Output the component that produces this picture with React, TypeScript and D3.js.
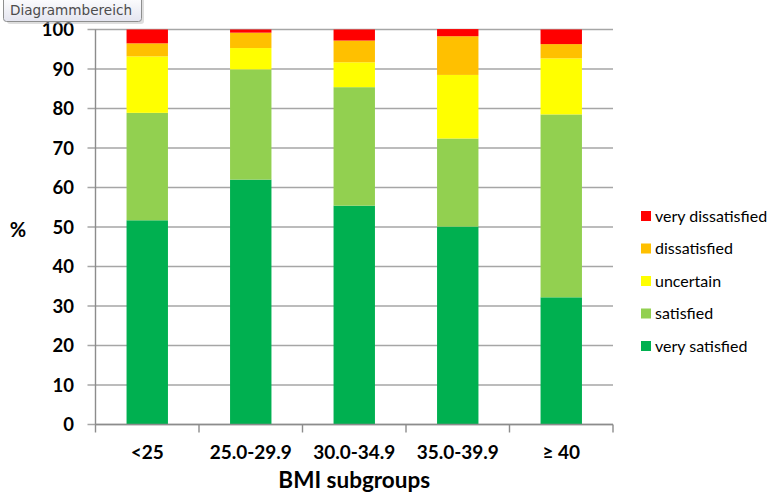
import React from "react";
import * as d3 from "d3";

const categories = ["<25", "25.0-29.9", "30.0-34.9", "35.0-39.9", "≥ 40"];
const seriesNames = ["very satisfied", "satisfied", "uncertain", "dissatisfied", "very dissatisfied"];
const verySatisfied = [51.7, 62.0, 55.4, 50.1, 32.2];
const satisfied = [27.2, 27.9, 30.0, 22.3, 46.3];
const uncertain = [14.3, 5.4, 6.3, 16.1, 14.2];
const dissatisfied = [3.3, 3.9, 5.5, 9.8, 3.6];
const veryDissatisfied = [3.5, 0.8, 2.8, 1.8, 3.7];
const seriesColors = ["#00B050", "#92D050", "#FFFF00", "#FFC000", "#FF0000"];
const yTicks = [0, 10, 20, 30, 40, 50, 60, 70, 80, 90, 100];

const W = 774;
const H = 499;
const FONT = "Lato, 'Open Sans', sans-serif";

export default function App() {
  const left = 95.5;
  const right = 613;
  const top = 29.5;
  const bottom = 424.5;

  const x = d3.scaleBand<string>().domain(categories).range([left, right]).paddingInner(0.6).paddingOuter(0.3);
  const xb = d3.scaleBand<string>().domain(categories).range([left, right]);
  const y = d3.scaleLinear().domain([0, 100]).range([bottom, top]);

  const rows = categories.map((c, i) => ({
    cat: c,
    "very satisfied": verySatisfied[i],
    satisfied: satisfied[i],
    uncertain: uncertain[i],
    dissatisfied: dissatisfied[i],
    "very dissatisfied": veryDissatisfied[i],
  }));
  const stack = d3.stack<any>().keys(seriesNames)(rows);

  const boundaries = categories.map((c) => xb(c) as number).concat([right]);
  const legendOrder = [...seriesNames].reverse();
  const legendY = d3.scalePoint<string>().domain(legendOrder).range([216, 346]);

  return (
    <svg width={W} height={H} style={{ position: "absolute", left: 0, top: 0, background: "#fff" }}>
      <defs>
        <linearGradient id="tipg" x1="0" y1="0" x2="0" y2="1">
          <stop offset="0" stopColor="#ffffff" />
          <stop offset="1" stopColor="#e4e5f0" />
        </linearGradient>
      </defs>
      {/* gridlines */}
      {yTicks.map((t) => (
        <line key={t} x1={left - 8} x2={right} y1={y(t)} y2={y(t)} stroke="#a6a6a6" strokeWidth={1.4} />
      ))}
      {/* bars */}
      {stack.map((s, si) =>
        s.map((d, i) => (
          <rect
            key={si + "-" + i}
            x={x(categories[i])}
            width={x.bandwidth()}
            y={y(d[1])}
            height={y(d[0]) - y(d[1])}
            fill={seriesColors[si]}
          />
        ))
      )}
      {/* axes */}
      <line x1={left} x2={left} y1={top} y2={bottom} stroke="#8c8c8c" strokeWidth={1.4} />
      <line x1={left} x2={right} y1={bottom} y2={bottom} stroke="#8c8c8c" strokeWidth={1.4} />
      {boundaries.map((b, i) => (
        <line key={i} x1={b} x2={b} y1={bottom} y2={bottom + 8} stroke="#8c8c8c" strokeWidth={1.4} />
      ))}
      {yTicks.map((t) => (
        <text key={t} x={74} y={y(t)} dy="0.36em" textAnchor="end" fontFamily={FONT} fontWeight={700} fontSize={18.5} fill="#000">
          {t}
        </text>
      ))}
      {categories.map((c) => (
        <text key={c} x={(xb(c) as number) + xb.bandwidth() / 2} y={452} dy="0.36em" textAnchor="middle" fontFamily={FONT} fontWeight={700} fontSize={19} fill="#000">
          {c}
        </text>
      ))}
      <text x={(left + right) / 2} y={488} textAnchor="middle" fontFamily={FONT} fontWeight={700} fontSize={22.5} fill="#000">
        BMI subgroups
      </text>
      <text x={18} y={230} dy="0.36em" textAnchor="middle" fontFamily={FONT} fontWeight={700} fontSize={20} fill="#000">
        %
      </text>
      {/* legend */}
      {legendOrder.map((k) => {
        const si = seriesNames.indexOf(k);
        const ly = legendY(k) as number;
        return (
          <g key={k}>
            <rect x={641} y={ly - 5} width={10} height={10} fill={seriesColors[si]} />
            <text x={655} y={ly} dy="0.35em" fontFamily={FONT} fontSize={16} fill="#000">
              {k}
            </text>
          </g>
        );
      })}
      {/* tooltip */}
      <g>
        <rect x={5} y={-4} width={137} height={26} rx={3} fill="#bdbdbd" opacity={0.5} transform="translate(2,2)" />
        <rect x={3.5} y={-4} width={138} height={25.5} rx={3} fill="url(#tipg)" stroke="#8e8f8f" strokeWidth={1} />
        <text x={10} y={15} textLength={122} lengthAdjust="spacingAndGlyphs" fontFamily="'DejaVu Sans', 'Open Sans', sans-serif" fontSize={14} fill="#4c4c4c">
          Diagrammbereich
        </text>
      </g>
    </svg>
  );
}
